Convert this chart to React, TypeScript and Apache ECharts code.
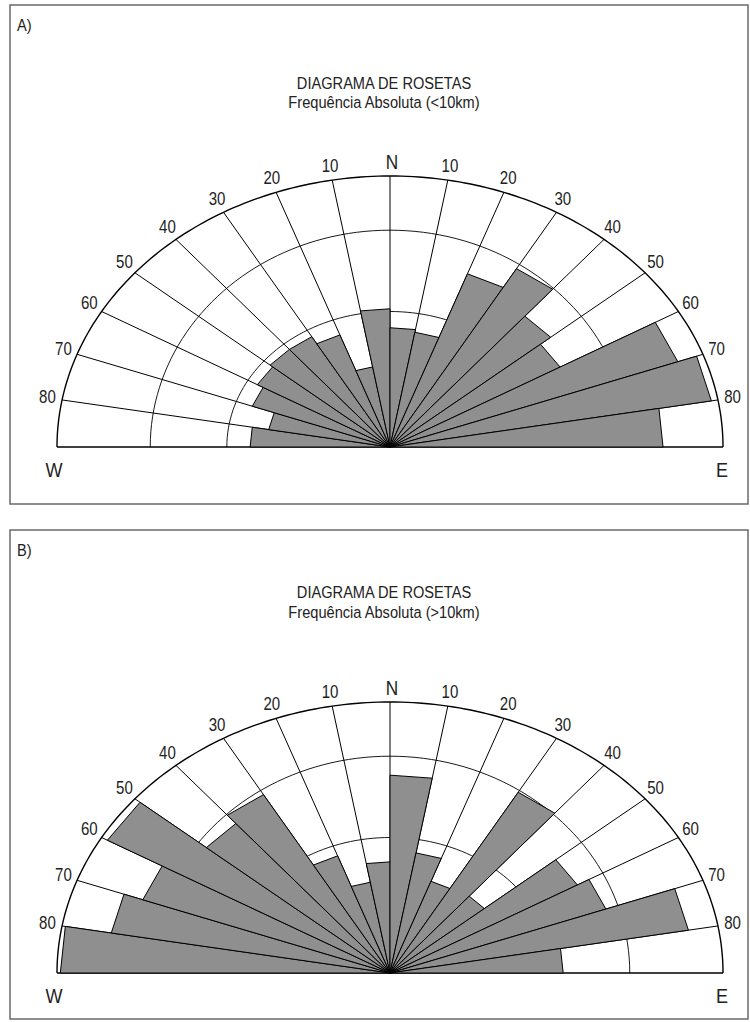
import React, { useEffect, useRef } from "react";
import * as echarts from "echarts";

// 10-degree azimuth classes, from W through N to E
const bins = [
  "270-280", "280-290", "290-300", "300-310", "310-320", "320-330", "330-340", "340-350", "350-360",
  "0-10", "10-20", "20-30", "30-40", "40-50", "50-60", "60-70", "70-80", "80-90",
];
// bar length, in % of the outer circle
const freqA = [42, 37, 44, 46, 47, 47, 44, 30, 51, 44, 43, 68, 76, 63, 59, 92, 98, 82];
const freqB = [99, 85, 79, 98, 72, 76, 46, 34, 41, 73, 45, 36, 77, 37, 65, 69, 91, 52];

// rim ticks (degrees from N) and their labels
const rimAngles = [-90, -80, -70, -60, -50, -40, -30, -20, -10, 0, 10, 20, 30, 40, 50, 60, 70, 80, 90];
const rimLabels = ["W", "80", "70", "60", "50", "40", "30", "20", "10", "N", "10", "20", "30", "40", "50", "60", "70", "80", "E"];

// concentric rings (horizontal / vertical reach, in % of outer circle)
const ringRadiiX = [49, 72];
const ringRadiiY = [50, 80];
const OUTER = 100;

const panelTags = ["A)", "B)"];
const titles = ["DIAGRAMA DE ROSETAS", "DIAGRAMA DE ROSETAS"];
const subtitles = ["Frequência Absoluta (<10km)", "Frequência Absoluta (>10km)"];

const FONT = "'Liberation Sans', Arial, Helvetica, sans-serif";
const SX = 0.86;

const panels = [
  { boxTop: 5, boxBottom: 504, plotTop: 176, tagY: 25, t1: 83, t2: 102 },
  { boxTop: 530, boxBottom: 1019, plotTop: 702, tagY: 550, t1: 592, t2: 612 },
];
const PLOT_LEFT = 57;
const PLOT_W = 666;
const PLOT_H = 271;

const rad = (d: number) => (d * Math.PI) / 180;

function frameRender(params: any, api: any) {
  const R = api.value(1);
  const c = api.coord([0, 0]);
  const pt = (rx: number, ry: number, d: number) =>
    api.coord([rx * Math.sin(rad(d)), ry * Math.cos(rad(d))]);
  const children: any[] = [];
  ringRadiiX.forEach((rx, k) => {
    const ry = ringRadiiY[k];
    const pts: number[][] = [];
    for (let d = -90; d <= 90; d += 2) pts.push(pt(rx, ry, d));
    children.push({
      type: "polyline",
      shape: { points: pts },
      style: { stroke: "#000", lineWidth: 0.9, fill: "none" },
    });
  });
  rimAngles.forEach((d) => {
    if (Math.abs(d) < 90) {
      const p = pt(R, R, d);
      children.push({
        type: "line",
        shape: { x1: c[0], y1: c[1], x2: p[0], y2: p[1] },
        style: { stroke: "#000", lineWidth: 1 },
      });
    }
  });
  const arc: number[][] = [];
  for (let d = -90; d <= 90; d += 1) arc.push(pt(R, R, d));
  children.push({
    type: "polyline",
    shape: { points: arc },
    style: { stroke: "#000", lineWidth: 1.4, fill: "none" },
  });
  const l = api.coord([-R, 0]);
  const r = api.coord([R, 0]);
  children.push({
    type: "line",
    shape: { x1: l[0], y1: l[1], x2: r[0], y2: r[1] },
    style: { stroke: "#000", lineWidth: 1.5 },
  });
  return { type: "group", children };
}

function barRender(params: any, api: any) {
  const i = api.value(0);
  const v = api.value(1);
  const d0 = i * 10 - 90;
  const d1 = d0 + 10;
  const c = api.coord([0, 0]);
  const p0 = api.coord([v * Math.sin(rad(d0)), v * Math.cos(rad(d0))]);
  const p1 = api.coord([v * Math.sin(rad(d1)), v * Math.cos(rad(d1))]);
  return {
    type: "polygon",
    shape: { points: [c, p0, p1] },
    style: { fill: "#8f8f8f", stroke: "#000", lineWidth: 1, lineJoin: "miter" },
  };
}

function labelRender(params: any, api: any) {
  const d = api.value(0);
  const R = api.value(1);
  const t = rad(d);
  const c = api.coord([0, 0]);
  const pa = api.coord([R, 0]);
  const pb = api.coord([0, R]);
  const a = pa[0] - c[0];
  const b = c[1] - pb[1];
  const p = api.coord([R * Math.sin(t), R * Math.cos(t)]);
  const txt = rimLabels[params.dataIndex];
  let x: number, y: number, fs: number;
  if (Math.abs(d) === 90) {
    x = p[0] + (d < 0 ? -3 : -1);
    y = p[1] + 22;
    fs = 21;
  } else if (d === 0) {
    x = p[0] + 2;
    y = p[1] - 14;
    fs = 20;
  } else {
    const nx = b * Math.sin(t);
    const ny = a * Math.cos(t);
    const L = Math.hypot(nx, ny);
    x = p[0] + (15 * nx) / L;
    y = p[1] - (15 * ny) / L;
    fs = 17.5;
  }
  return {
    type: "text",
    x,
    y,
    scaleX: SX,
    style: {
      text: txt,
      x: 0,
      y: 0,
      align: "center",
      verticalAlign: "middle",
      fontSize: fs,
      fontFamily: FONT,
      fill: "#222",
    },
  };
}

export default function App() {
  const ref = useRef<HTMLDivElement>(null);
  useEffect(() => {
    if (!ref.current) return;
    const chart = echarts.init(ref.current, null, { renderer: "svg" });
    const datasets = [freqA, freqB];
    const grids = panels.map((p) => ({
      left: PLOT_LEFT,
      top: p.plotTop,
      width: PLOT_W,
      height: PLOT_H,
      containLabel: false,
    }));
    const xAxes = panels.map((_, k) => ({
      type: "value",
      gridIndex: k,
      min: -OUTER,
      max: OUTER,
      show: false,
    }));
    const yAxes = panels.map((_, k) => ({
      type: "value",
      gridIndex: k,
      min: 0,
      max: OUTER,
      show: false,
    }));
    const series: any[] = [];
    panels.forEach((_, k) => {
      series.push({
        type: "custom",
        name: "frame" + k,
        xAxisIndex: k,
        yAxisIndex: k,
        z: 1,
        silent: true,
        data: [[0, OUTER]],
        renderItem: frameRender,
      });
      series.push({
        type: "custom",
        name: titles[k] + " " + subtitles[k],
        xAxisIndex: k,
        yAxisIndex: k,
        z: 2,
        data: datasets[k].map((v, i) => ({ name: bins[i], value: [i, v] })),
        renderItem: barRender,
      });
      series.push({
        type: "custom",
        name: "rim" + k,
        xAxisIndex: k,
        yAxisIndex: k,
        z: 3,
        silent: true,
        data: rimAngles.map((a) => [a, OUTER]),
        renderItem: labelRender,
      });
    });
    const graphic: any[] = [];
    panels.forEach((p, k) => {
      graphic.push({
        type: "rect",
        shape: { x: 10, y: p.boxTop, width: 738, height: p.boxBottom - p.boxTop },
        style: { fill: "none", stroke: "#6a6a6a", lineWidth: 1.5 },
        z: 0,
      });
      graphic.push({
        type: "text",
        x: 17,
        y: p.tagY,
        scaleX: SX,
        style: {
          text: panelTags[k],
          align: "left",
          verticalAlign: "middle",
          fontSize: 17,
          fontFamily: FONT,
          fill: "#222",
        },
      });
      graphic.push({
        type: "text",
        x: 384,
        y: p.t1,
        scaleX: SX,
        style: {
          text: titles[k],
          align: "center",
          verticalAlign: "middle",
          fontSize: 17,
          fontFamily: FONT,
          fill: "#222",
        },
      });
      graphic.push({
        type: "text",
        x: 384,
        y: p.t2,
        scaleX: SX,
        style: {
          text: subtitles[k],
          align: "center",
          verticalAlign: "middle",
          fontSize: 17,
          fontFamily: FONT,
          fill: "#222",
        },
      });
    });
    chart.setOption({
      animation: false,
      backgroundColor: "#ffffff",
      grid: grids,
      xAxis: xAxes,
      yAxis: yAxes,
      series,
      graphic,
    });
    return () => chart.dispose();
  }, []);
  return (
    <div
      ref={ref}
      style={{ position: "absolute", left: 0, top: 0, width: 750, height: 1022, background: "#fff" }}
    />
  );
}
